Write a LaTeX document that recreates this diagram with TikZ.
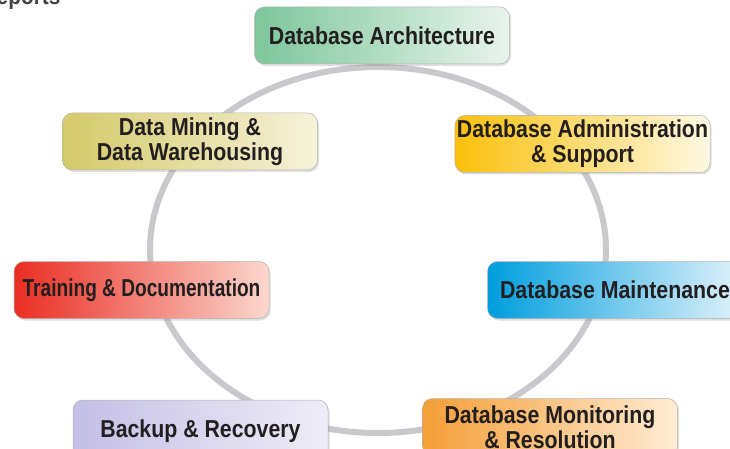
\documentclass[tikz,border=0pt]{standalone}
\usepackage{fontspec}
\newfontfamily\boxfont{Liberation Sans}[FakeStretch=0.87]
\newfontfamily\narrowboxfont{Liberation Sans}[FakeStretch=0.78]
\usetikzlibrary{positioning,shadows}
\definecolor{ringgray}{RGB}{200,200,205}
\definecolor{textdark}{RGB}{35,31,32}
\definecolor{archA}{RGB}{125,198,155}
\definecolor{archB}{RGB}{232,244,237}
\definecolor{adminA}{RGB}{250,192,10}
\definecolor{adminB}{RGB}{255,249,228}
\definecolor{maintA}{RGB}{0,158,222}
\definecolor{maintB}{RGB}{226,242,251}
\definecolor{trainA}{RGB}{234,45,35}
\definecolor{trainB}{RGB}{251,215,205}
\definecolor{backupA}{RGB}{196,191,230}
\definecolor{backupB}{RGB}{238,237,247}
\definecolor{monitorA}{RGB}{244,158,55}
\definecolor{monitorB}{RGB}{255,236,212}
\definecolor{miningA}{RGB}{212,202,105}
\definecolor{miningB}{RGB}{246,242,218}
\tikzset{
task/.style={rounded corners=10pt,draw=black!30,line width=0.5pt,
minimum width=255pt,minimum height=57pt,inner xsep=2pt,align=center,text=textdark,
font=\boxfont\bfseries\fontsize{24.5}{25}\selectfont,
drop shadow={opacity=0.25,shadow xshift=1.5pt,shadow yshift=-2pt}},
shaded task/.style 2 args={task,left color=#1,middle color=#1!55!#2,right color=#2},
ring/.style={draw=ringgray,line width=6pt}
}
\begin{document}
\begin{tikzpicture}[x=1pt,y=-1pt]
\useasboundingbox (0,0) rectangle (730,449);
\clip (0,0) rectangle (730,449);

\draw[ring] (378,250) ellipse [x radius=228pt,y radius=183pt];

\node[text=textdark!85,anchor=base east,font=\boxfont\bfseries\fontsize{24}{24}\selectfont] (reports) at (64,5) {Reports};

\node[shaded task={archA}{archB}] (arch) at (382,35.5) {Database Architecture};
\node[shaded task={adminA}{adminB}] (admin) at (582.5,144) {Database Administration\\\& Support};
\node[shaded task={maintA}{maintB}] (maint) at (615,290) {Database Maintenance};
\node[shaded task={monitorA}{monitorB}] (monitor) at (550,427) {Database Monitoring\\\& Resolution};
\node[shaded task={backupA}{backupB},minimum height=63pt] (backup) at (200.5,431.5) {Backup \& Recovery};
\node[shaded task={trainA}{trainB},font=\narrowboxfont\bfseries\fontsize{24.5}{25}\selectfont] (train) at (141.5,290) {Training \& Documentation};
\node[shaded task={miningA}{miningB}] (mining) at (190,141.5) {Data Mining \&\\Data Warehousing};

\end{tikzpicture}
\end{document}
